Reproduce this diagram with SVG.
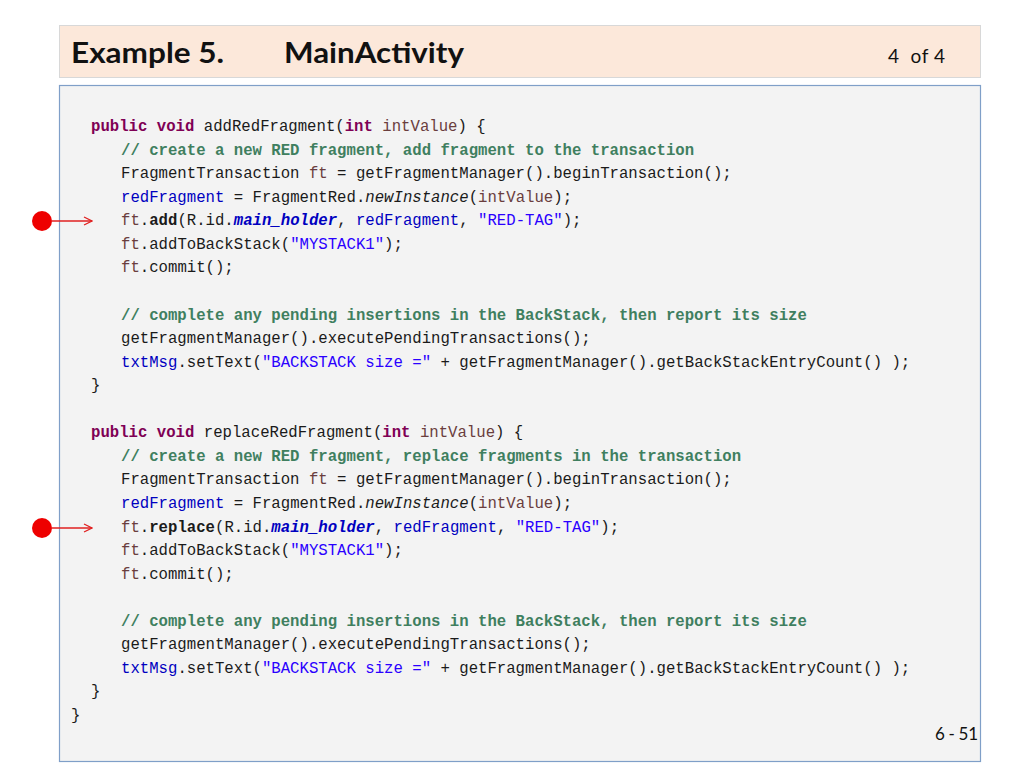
<svg xmlns="http://www.w3.org/2000/svg" width="1024" height="768" viewBox="0 0 1024 768">
<defs>
<style>
.title{font-family:Lato,"Open Sans","Liberation Sans",sans-serif;font-weight:bold;font-size:28px;fill:#111}
.meta{font-family:Lato,"Open Sans","Liberation Sans",sans-serif;font-size:19px;fill:#111;white-space:pre}
.code{font-family:"Liberation Mono","DejaVu Sans Mono",monospace;font-size:15.67px;fill:#1a1a1a;white-space:pre}
.k{fill:#7f0055;font-weight:bold}
.v{fill:#6a3e3e}
.f{fill:#0000c0}
.fi{fill:#0000c0;font-weight:bold;font-style:italic}
.s{fill:#2a00ff}
.c{fill:#3f7f5f;font-weight:bold}
.b{font-weight:bold}
.i{font-style:italic}
.arrow{stroke:#e02020;stroke-width:1.3;fill:none}
.dot{fill:#ee0000}
</style>
<marker id="ah" viewBox="0 0 10 10" refX="9" refY="5" markerWidth="10" markerHeight="10" markerUnits="userSpaceOnUse" orient="auto">
<path d="M1,1 L9,5 L1,9" fill="none" stroke="#e02020" stroke-width="1.3"/>
</marker>
</defs>
<rect width="1024" height="768" fill="#ffffff"/>
<g id="title">
<rect x="59.5" y="25.5" width="921" height="52" fill="#fce8da" stroke="#d8d8d8" stroke-width="1"/>
<text class="title" x="71" y="63" textLength="153" lengthAdjust="spacingAndGlyphs">Example 5.</text>
<text class="title" x="284" y="63" textLength="180" lengthAdjust="spacingAndGlyphs">MainActivity</text>
<text class="meta" x="888" y="63" textLength="57" lengthAdjust="spacing">4  of 4</text>
</g>
<g id="codebox">
<rect x="59.5" y="85.5" width="921" height="676" fill="#f3f3f3" stroke="#7f9fc8" stroke-width="1.2"/>
<text class="code">
<tspan x="91" y="131"><tspan class="k">public</tspan> <tspan class="k">void</tspan> addRedFragment(<tspan class="k">int</tspan> <tspan class="v">intValue</tspan>) {</tspan>
<tspan x="121" y="154.6"><tspan class="c">// create a new RED fragment, add fragment to the transaction</tspan></tspan>
<tspan x="121" y="178.1">FragmentTransaction <tspan class="v">ft</tspan> = getFragmentManager().beginTransaction();</tspan>
<tspan x="121" y="201.7"><tspan class="f">redFragment</tspan> = FragmentRed.<tspan class="i">newInstance</tspan>(<tspan class="v">intValue</tspan>);</tspan>
<tspan x="121" y="225.2"><tspan class="v">ft</tspan>.<tspan class="b">add</tspan>(R.id.<tspan class="fi">main_holder</tspan>, <tspan class="f">redFragment</tspan>, <tspan class="s">"RED-TAG"</tspan>);</tspan>
<tspan x="121" y="248.8"><tspan class="v">ft</tspan>.addToBackStack(<tspan class="s">"MYSTACK1"</tspan>);</tspan>
<tspan x="121" y="272.4"><tspan class="v">ft</tspan>.commit();</tspan>
<tspan x="121" y="319.5"><tspan class="c">// complete any pending insertions in the BackStack, then report its size</tspan></tspan>
<tspan x="121" y="343">getFragmentManager().executePendingTransactions();</tspan>
<tspan x="121" y="366.6"><tspan class="f">txtMsg</tspan>.setText(<tspan class="s">"BACKSTACK size ="</tspan> + getFragmentManager().getBackStackEntryCount() );</tspan>
<tspan x="91" y="390.2">}</tspan>
<tspan x="91" y="437.3"><tspan class="k">public</tspan> <tspan class="k">void</tspan> replaceRedFragment(<tspan class="k">int</tspan> <tspan class="v">intValue</tspan>) {</tspan>
<tspan x="121" y="460.8"><tspan class="c">// create a new RED fragment, replace fragments in the transaction</tspan></tspan>
<tspan x="121" y="484.4">FragmentTransaction <tspan class="v">ft</tspan> = getFragmentManager().beginTransaction();</tspan>
<tspan x="121" y="508"><tspan class="f">redFragment</tspan> = FragmentRed.<tspan class="i">newInstance</tspan>(<tspan class="v">intValue</tspan>);</tspan>
<tspan x="121" y="531.5"><tspan class="v">ft</tspan>.<tspan class="b">replace</tspan>(R.id.<tspan class="fi">main_holder</tspan>, <tspan class="f">redFragment</tspan>, <tspan class="s">"RED-TAG"</tspan>);</tspan>
<tspan x="121" y="555.1"><tspan class="v">ft</tspan>.addToBackStack(<tspan class="s">"MYSTACK1"</tspan>);</tspan>
<tspan x="121" y="578.6"><tspan class="v">ft</tspan>.commit();</tspan>
<tspan x="121" y="625.8"><tspan class="c">// complete any pending insertions in the BackStack, then report its size</tspan></tspan>
<tspan x="121" y="649.3">getFragmentManager().executePendingTransactions();</tspan>
<tspan x="121" y="672.9"><tspan class="f">txtMsg</tspan>.setText(<tspan class="s">"BACKSTACK size ="</tspan> + getFragmentManager().getBackStackEntryCount() );</tspan>
<tspan x="91" y="696.4">}</tspan>
<tspan x="71" y="720">}</tspan>
</text>
<text class="meta" x="935" y="740" style="font-size:17px" textLength="43" lengthAdjust="spacing">6 - 51</text>
</g>
<g id="pointer-add">
<circle class="dot" cx="42" cy="221" r="10"/>
</g>
<g id="pointer-replace">
<circle class="dot" cx="42" cy="528" r="10"/>
</g>
<g id="connectors">
<line class="arrow" x1="52" y1="221" x2="92" y2="221" marker-end="url(#ah)"/>
<line class="arrow" x1="52" y1="528" x2="92" y2="528" marker-end="url(#ah)"/>
</g>
</svg>
